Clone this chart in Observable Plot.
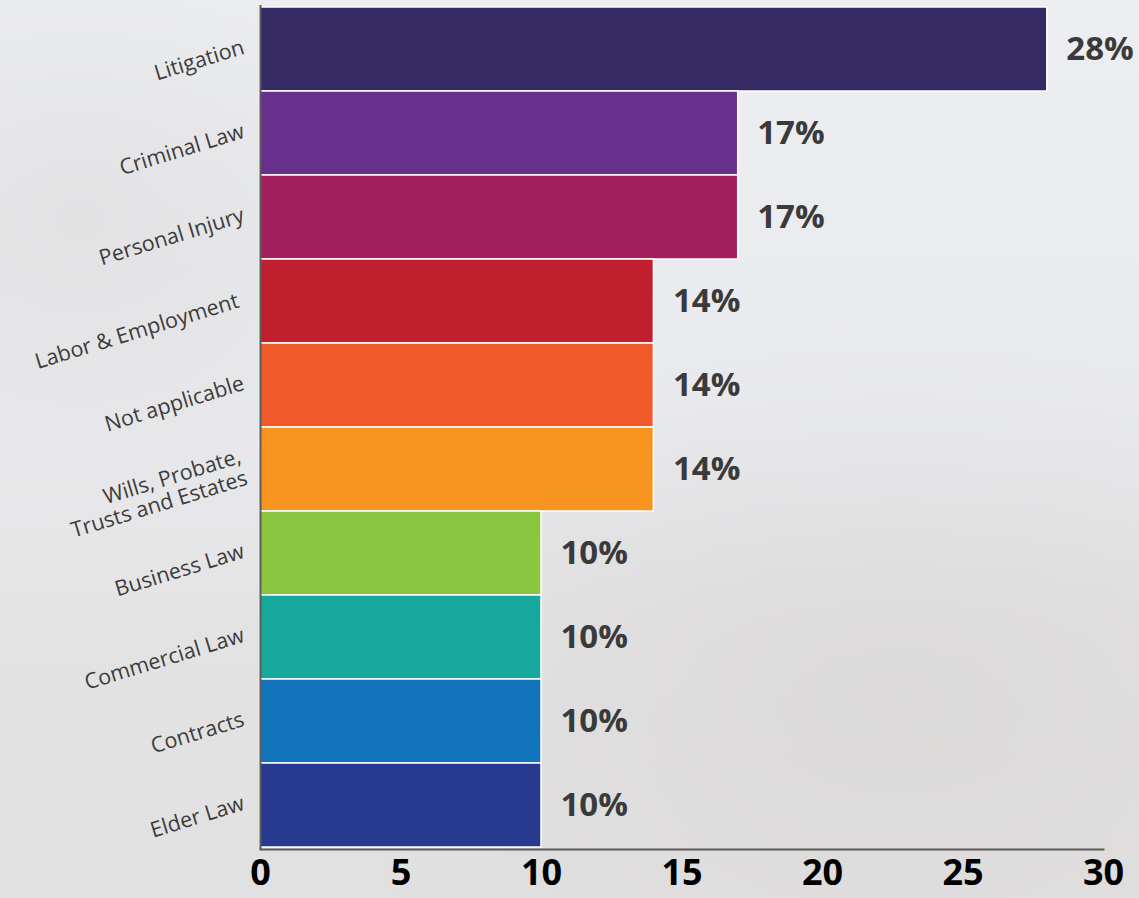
<!DOCTYPE html>
<html>
<head>
<meta charset="utf-8">
<script src="https://cdn.jsdelivr.net/npm/d3@7"></script>
<script src="https://cdn.jsdelivr.net/npm/@observablehq/plot@0.6"></script>
<style>
  html, body { margin: 0; padding: 0; }
  body {
    width: 1139px; height: 898px; overflow: hidden;
    background:
      radial-gradient(ellipse 420px 300px at 80px 220px, rgba(190,180,175,0.18), rgba(0,0,0,0)),
      radial-gradient(ellipse 600px 380px at 900px 700px, rgba(190,185,182,0.22), rgba(0,0,0,0)),
      linear-gradient(#eceef1 0%, #e9eaed 45%, #e4e3e4 70%, #e2e1e1 100%);
    font-family: "Open Sans", sans-serif;
  }
  #chart svg { background: transparent !important; display: block; }
</style>
</head>
<body>
<div id="chart"></div>
<script>
const categories = ["Litigation", "Criminal Law", "Personal Injury", "Labor & Employment\u00a0", "Not applicable", "Wills, Probate,\nTrusts and Estates", "Business Law", "Commercial Law", "Contracts", "Elder Law"];
const values = [28, 17, 17, 14, 14, 14, 10, 10, 10, 10];
const colors = ["#352a63", "#67308d", "#a21f5e", "#c01f2e", "#f05a2b", "#f7941f", "#8cc540", "#17a89d", "#1174bb", "#283a90"];
const xTicks = [0, 5, 10, 15, 20, 25, 30];

const data = categories.map((c, i) => ({category: c, value: values[i], color: colors[i]}));

const chart = Plot.plot({
  width: 1139,
  height: 898,
  marginLeft: 260,
  marginRight: 36,
  marginTop: 5,
  marginBottom: 49,
  style: {background: "transparent", fontFamily: "'Open Sans', sans-serif", overflow: "visible"},
  x: {domain: [0, 30], ticks: xTicks, label: null},
  y: {domain: categories, padding: 0, axis: null},
  marks: [
    Plot.barX(data, {x: "value", y: "category", fill: "color", stroke: "white", strokeWidth: 1.5}),
    Plot.ruleX([0], {stroke: "#5a5a5a", strokeWidth: 2}),
    Plot.frame({anchor: "bottom", stroke: "#5a5a5a", strokeWidth: 2}),
    Plot.axisX({ticks: xTicks, tickSize: 0, tickPadding: 10, fontSize: 36, fontWeight: "bold", fill: "#000", label: null, tickFormat: d => String(d)}),
    Plot.text(data, {x: "value", y: "category", text: d => d.value + "%", dx: 19, textAnchor: "start", fontSize: 33, fontWeight: "bold", fill: "#3a3a3a"}),
    Plot.text(data, {x: 0, y: "category", text: "category", dx: -17, dy: -3, textAnchor: "end", lineAnchor: "middle", rotate: -17, fontSize: 21.5, fill: "#3c3c3c", lineHeight: 1.05})
  ]
});
document.getElementById("chart").appendChild(chart);
</script>
</body>
</html>
